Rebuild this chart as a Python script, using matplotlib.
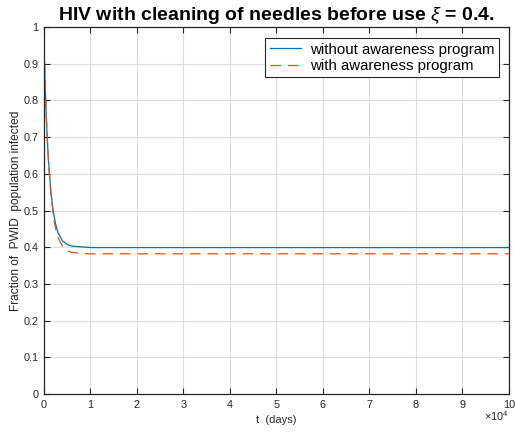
import matplotlib

matplotlib.use("Agg")
import matplotlib.pyplot as plt
import numpy as np

plt.rcParams["font.family"] = ["Liberation Sans", "DejaVu Sans"]
plt.rcParams["mathtext.fontset"] = "custom"
plt.rcParams["mathtext.rm"] = "Liberation Sans"
plt.rcParams["mathtext.it"] = "Liberation Sans:italic"

# time in days
t_days = [0, 250, 500, 750, 1000, 1500, 2000, 2500, 3000, 4000, 5000,
          6000, 8000, 10000, 100000]
without_program = [0.95, 0.843, 0.756, 0.686, 0.630, 0.549, 0.497, 0.463,
                   0.440, 0.417, 0.407, 0.403, 0.401, 0.399, 0.399]
with_program = [0.95, 0.844, 0.756, 0.685, 0.627, 0.543, 0.487, 0.451,
                0.427, 0.402, 0.390, 0.386, 0.383, 0.382, 0.382]

x_ticks = np.arange(0, 100001, 10000)
x_tick_labels = [str(i) for i in range(11)]
y_ticks = np.round(np.arange(0, 1.01, 0.1), 1)
y_tick_labels = ["0"] + [f"{v:g}" for v in y_ticks[1:]]

AX_COLOR = "#262626"

fig = plt.figure(figsize=(5.15, 4.33), dpi=100)
ax = fig.add_axes([0.0854, 0.0901, 0.9029, 0.8475])

ax.plot(t_days, without_program, color="#0072BD", linewidth=0.9,
        label="without awareness program")
ax.plot(t_days, with_program, color="#D95319", linewidth=0.9,
        linestyle=(0, (8.5, 5.5)), label="with awareness program")

ax.set_xlim(0, 100000)
ax.set_ylim(0, 1)
ax.set_xticks(x_ticks)
ax.set_xticklabels(x_tick_labels)
ax.set_yticks(y_ticks)
ax.set_yticklabels(y_tick_labels)

ax.grid(True, color="#dcdcdc", linewidth=0.8)
ax.set_axisbelow(True)
for spine in ax.spines.values():
    spine.set_color(AX_COLOR)
    spine.set_linewidth(0.9)
ax.tick_params(axis="both", direction="in", top=True, right=True,
               length=4, width=0.8, colors=AX_COLOR, labelsize=7.8,
               pad=4)

ax.set_xlabel("t  (days)", fontsize=8, color=AX_COLOR, labelpad=4)
ax.set_ylabel("Fraction of  PWID  population infected", fontsize=8.6,
              color=AX_COLOR, labelpad=1)
ax.text(1.0, -0.042, r"$\times10^4$", transform=ax.transAxes,
        ha="right", va="top", fontsize=7.8, color=AX_COLOR)

ax.set_title(r"HIV with cleaning of needles before use $\xi$ = 0.4.",
             fontsize=14, fontweight="bold", pad=5)

leg = ax.legend(loc="upper right", fontsize=10.8, fancybox=False,
                framealpha=1, edgecolor=AX_COLOR, borderpad=0.3,
                handlelength=2.1, handletextpad=0.55, labelspacing=0.15,
                borderaxespad=0, bbox_to_anchor=(0.978, 0.97))
leg.get_frame().set_linewidth(0.8)

fig.savefig("out.png", dpi=100, facecolor="white")
